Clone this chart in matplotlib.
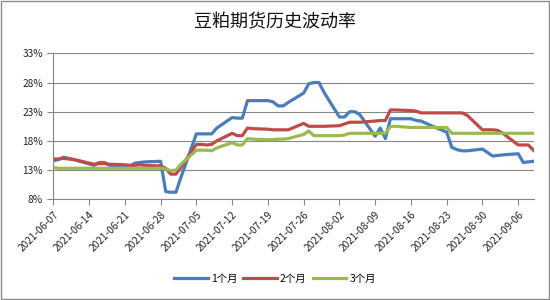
import matplotlib
matplotlib.use("Agg")
import matplotlib.pyplot as plt
import matplotlib.dates as mdates
from matplotlib.ticker import FuncFormatter
import pandas as pd

plt.rcParams['font.family'] = ['Noto Sans CJK SC', 'DejaVu Sans']

# trading days (06-14 Dragon Boat holiday skipped)
dates = [
    "2021-06-07", "2021-06-08", "2021-06-09", "2021-06-10", "2021-06-11",
    "2021-06-15", "2021-06-16", "2021-06-17", "2021-06-18",
    "2021-06-21", "2021-06-22", "2021-06-23", "2021-06-24", "2021-06-25",
    "2021-06-28", "2021-06-29", "2021-06-30", "2021-07-01", "2021-07-02",
    "2021-07-05", "2021-07-06", "2021-07-07", "2021-07-08", "2021-07-09",
    "2021-07-12", "2021-07-13", "2021-07-14", "2021-07-15", "2021-07-16",
    "2021-07-19", "2021-07-20", "2021-07-21", "2021-07-22", "2021-07-23",
    "2021-07-26", "2021-07-27", "2021-07-28", "2021-07-29", "2021-07-30",
    "2021-08-02", "2021-08-03", "2021-08-04", "2021-08-05", "2021-08-06",
    "2021-08-09", "2021-08-10", "2021-08-11", "2021-08-12", "2021-08-13",
    "2021-08-16", "2021-08-17", "2021-08-18", "2021-08-19", "2021-08-20",
    "2021-08-23", "2021-08-24", "2021-08-25", "2021-08-26", "2021-08-27",
    "2021-08-30", "2021-08-31", "2021-09-01", "2021-09-02", "2021-09-03",
    "2021-09-06", "2021-09-07", "2021-09-08", "2021-09-09",
]

vol_1m = [
    14.6, 14.8, 15.2, 15.0, 14.8,
    13.8, 14.3, 14.3, 13.8,
    13.7, 13.7, 14.2, 14.3, 14.4,
    14.5, 9.3, 9.2, 9.2, 11.8,
    19.2, 19.2, 19.2, 19.2, 20.2,
    22.0, 21.9, 21.9, 24.9, 24.9,
    24.9, 24.7, 24.0, 24.0, 24.6,
    26.2, 27.8, 28.0, 28.0, 26.3,
    22.1, 22.1, 23.0, 23.0, 22.5,
    18.8, 20.2, 18.4, 21.8, 21.8,
    21.8, 21.5, 21.4, 21.0, 20.6,
    19.5, 16.9, 16.5, 16.3, 16.3,
    16.6, 16.0, 15.4, 15.5, 15.6,
    15.8, 14.3, 14.4, 14.5,
]

vol_2m = [
    14.9, 14.9, 15.0, 14.9, 14.8,
    14.0, 14.1, 14.1, 14.0,
    13.9, 13.8, 13.8, 13.9, 13.8,
    13.7, 13.3, 12.3, 12.3, 13.5,
    17.4, 17.4, 17.3, 17.4, 18.0,
    19.3, 18.9, 18.9, 20.2, 20.1,
    20.0, 19.9, 19.9, 19.9, 19.9,
    21.0, 20.5, 20.5, 20.5, 20.5,
    20.6, 20.9, 21.2, 21.2, 21.2,
    21.4, 21.5, 21.5, 23.3, 23.3,
    23.2, 23.1, 22.8, 22.8, 22.8,
    22.8, 22.8, 22.8, 22.8, 22.4,
    19.9, 19.9, 19.9, 19.8, 19.3,
    17.3, 17.3, 17.3, 16.4,
]

vol_3m = [
    13.4, 13.3, 13.3, 13.3, 13.3,
    13.3, 13.3, 13.3, 13.3,
    13.3, 13.3, 13.3, 13.3, 13.3,
    13.3, 13.2, 12.9, 13.0, 14.0,
    16.4, 16.4, 16.4, 16.3, 16.8,
    17.7, 17.3, 17.3, 18.4, 18.3,
    18.2, 18.2, 18.3, 18.3, 18.4,
    19.1, 19.7, 18.9, 18.9, 18.9,
    18.9, 19.0, 19.3, 19.3, 19.3,
    19.3, 19.3, 19.3, 20.5, 20.5,
    20.3, 20.3, 20.3, 20.3, 20.3,
    20.3, 19.3, 19.3, 19.3, 19.3,
    19.3, 19.3, 19.3, 19.3, 19.3,
    19.3, 19.3, 19.3, 19.3,
]

labels = ["1个月", "2个月", "3个月"]
colors = ["#4A7EBB", "#BE4B48", "#98B954"]

x = pd.to_datetime(dates)

fig = plt.figure(figsize=(5.5, 3.0), dpi=100)
ax = fig.add_axes([0.097, 0.336, 0.873, 0.486])

for vals, lab, col in zip([vol_1m, vol_2m, vol_3m], labels, colors):
    ax.plot(x, vals, color=col, lw=2.3, label=lab, solid_joinstyle='round')

ax.set_ylim(8, 33)
ax.set_yticks([8, 13, 18, 23, 28, 33])
ax.yaxis.set_major_formatter(FuncFormatter(lambda v, p: f"{v:.0f}%"))
ax.set_xlim(x[0], x[-1])
ticks = pd.date_range("2021-06-07", "2021-09-06", freq="7D")
ax.set_xticks(ticks)
ax.xaxis.set_major_formatter(mdates.DateFormatter("%Y-%m-%d"))

ax.grid(axis='y', color='#868686', lw=0.8)
ax.set_axisbelow(True)
for s in ['top', 'right']:
    ax.spines[s].set_visible(False)
for s in ['left', 'bottom']:
    ax.spines[s].set_color('#868686')
ax.tick_params(axis='both', colors='#868686', labelcolor='#222222', labelsize=7.3, length=4, width=0.8)
plt.setp(ax.get_xticklabels(), rotation=45, ha='right', rotation_mode='anchor')

fig.text(0.5, 0.925, "豆粕期货历史波动率", ha='center', va='center', fontsize=13, color='#111111')

fig.legend(loc='center', bbox_to_anchor=(0.5, 0.07), ncol=3, frameon=False,
           fontsize=7.5, handlelength=3.2, columnspacing=0.6, handletextpad=0.3)

fig.patches.append(plt.Rectangle((0.002, 0.003), 0.996, 0.994, transform=fig.transFigure,
                                 fill=False, edgecolor='#8c8c8c', lw=1))

fig.savefig("out.png", dpi=100)
